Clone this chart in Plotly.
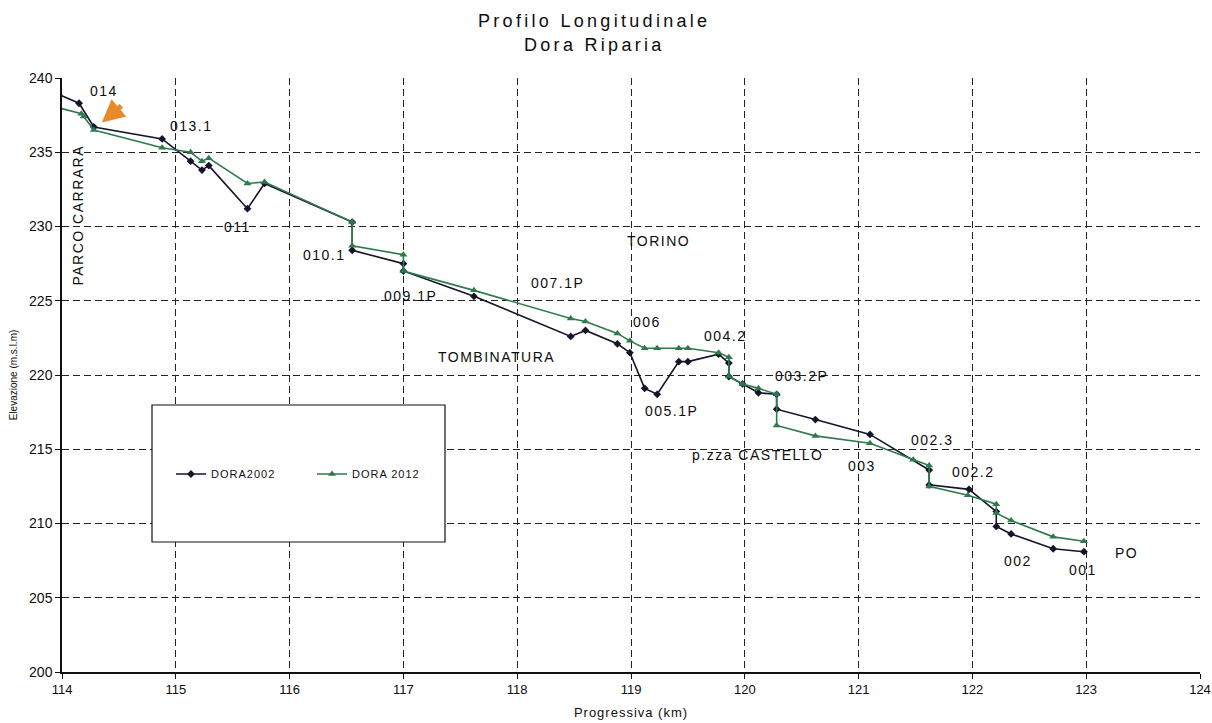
import plotly.graph_objects as go

# Longitudinal bed profile of the Dora Riparia through Torino
km_2002 = [113.97, 114.15, 114.28, 114.88, 115.13, 115.23, 115.29, 115.63, 115.78, 116.55,
           116.55, 117.00, 117.00, 117.62, 118.47, 118.60, 118.88, 118.99, 119.12, 119.23,
           119.42, 119.50, 119.77, 119.86, 119.86, 119.98, 120.12, 120.28, 120.28, 120.62,
           121.10, 121.62, 121.62, 121.97, 122.21, 122.21, 122.34, 122.71, 122.98]
elev_2002 = [238.9, 238.3, 236.7, 235.9, 234.4, 233.8, 234.1, 231.2, 232.9, 230.3,
             228.4, 227.5, 227.0, 225.3, 222.6, 223.0, 222.1, 221.5, 219.1, 218.7,
             220.9, 220.9, 221.4, 220.8, 219.9, 219.4, 218.8, 218.7, 217.7, 217.0,
             216.0, 213.6, 212.6, 212.3, 210.8, 209.8, 209.3, 208.3, 208.1]

km_2012 = [113.97, 114.17, 114.19, 114.28, 114.88, 115.13, 115.23, 115.29, 115.63, 115.78,
           116.55, 116.55, 117.00, 117.00, 117.62, 118.47, 118.60, 118.88, 118.99, 119.12,
           119.23, 119.42, 119.50, 119.77, 119.86, 119.86, 119.98, 120.12, 120.28, 120.28,
           120.62, 121.10, 121.48, 121.62, 121.62, 121.96, 122.21, 122.21, 122.34, 122.71,
           122.98]
elev_2012 = [238.0, 237.6, 237.4, 236.5, 235.3, 235.0, 234.4, 234.6, 232.9, 233.0,
             230.3, 228.7, 228.1, 227.0, 225.7, 223.8, 223.6, 222.8, 222.3, 221.8,
             221.8, 221.8, 221.8, 221.5, 221.2, 219.9, 219.4, 219.1, 218.7, 216.6,
             215.9, 215.4, 214.3, 213.9, 212.5, 211.9, 211.3, 210.7, 210.2, 209.1,
             208.8]

# Section and place names written on the profile
label_text = ["014", "013.1", "011", "010.1", "009.1P", "TORINO", "007.1P", "006",
              "TOMBINATURA", "004.2", "003.2P", "005.1P", "p.zza CASTELLO", "002.3",
              "003", "002.2", "002", "001", "PO"]
label_km = [114.37, 115.14, 115.54, 116.31, 117.06, 119.24, 118.35, 119.14,
            117.82, 119.83, 120.50, 119.36, 120.12, 121.65,
            121.03, 122.01, 122.40, 122.97, 123.35]
label_elev = [239.1, 236.8, 230.0, 228.1, 225.3, 229.0, 226.2, 223.6,
              221.2, 222.6, 219.9, 217.6, 214.6, 215.6,
              213.9, 213.5, 207.5, 206.9, 208.0]

FONT = "Liberation Sans, Arial, sans-serif"
TEXT = "#0d0d0d"
BLACK_LINE = "#14142a"
GREEN_LINE = "#2f7a4c"


def spaced(text, px):
    return f'<span style="letter-spacing:{px}px">{text}</span>'


fig = go.Figure()
fig.add_trace(go.Scatter(
    x=km_2002, y=elev_2002, mode="lines+markers", name=spaced("DORA2002", 1),
    line=dict(color=BLACK_LINE, width=1.6),
    marker=dict(symbol="diamond", size=6, color=BLACK_LINE),
))
fig.add_trace(go.Scatter(
    x=km_2012, y=elev_2012, mode="lines+markers", name=spaced("DORA 2012", 1),
    line=dict(color=GREEN_LINE, width=1.6),
    marker=dict(symbol="triangle-up", size=7, color=GREEN_LINE),
))

for t, xk, ye in zip(label_text, label_km, label_elev):
    fig.add_annotation(
        x=xk, y=ye, xref="x", yref="y", text=spaced(t, 1.5), showarrow=False,
        xanchor="center", yanchor="middle",
        font=dict(family=FONT, size=14, color=TEXT),
    )

fig.add_annotation(
    x=114.14, y=230.8, xref="x", yref="y", text=spaced("PARCO CARRARA", 1.5),
    showarrow=False, textangle=-90, xanchor="center", yanchor="middle",
    font=dict(family=FONT, size=14, color=TEXT),
)

# Orange pointer next to section 014
fig.add_annotation(
    x=114.35, y=237.0, xref="x", yref="y", text="", showarrow=True,
    ax=21, ay=-18, arrowhead=2, arrowsize=0.9, arrowwidth=5, arrowcolor="#e8892a",
    standoff=0,
)

# Two-line chart title
title_x = (594 - 62) / 1138
fig.add_annotation(
    x=title_x, y=1 + (78 - 21) / 594, xref="paper", yref="paper",
    text=spaced("Profilo Longitudinale", 3.3), showarrow=False,
    xanchor="center", yanchor="middle",
    font=dict(family=FONT, size=18, color=TEXT),
)
fig.add_annotation(
    x=title_x, y=1 + (78 - 45) / 594, xref="paper", yref="paper",
    text=spaced("Dora Riparia", 3.3), showarrow=False,
    xanchor="center", yanchor="middle",
    font=dict(family=FONT, size=18, color=TEXT),
)

# Legend frame
fig.add_shape(
    type="rect", xref="paper", yref="paper",
    x0=(152 - 62) / 1138, x1=(445 - 62) / 1138,
    y0=(672 - 542) / 594, y1=(672 - 405) / 594,
    line=dict(color="#111", width=1.2), fillcolor="white", layer="above",
)

grid_common = dict(
    showgrid=True, gridcolor="#222", gridwidth=1, griddash="7px,4px",
    showline=True, linecolor="#111", linewidth=1.5,
    ticks="outside", ticklen=5, tickcolor="#111", tickwidth=1,
    zeroline=False,
)

fig.update_xaxes(
    range=[114, 124], dtick=1, tick0=114,
    tickfont=dict(family=FONT, size=13, color=TEXT),
    title=dict(text=spaced("Progressiva (km)", 1), font=dict(family=FONT, size=13, color=TEXT),
               standoff=12),
    **grid_common,
)
fig.update_yaxes(
    range=[200, 240], dtick=5, tick0=200,
    tickfont=dict(family=FONT, size=14, color=TEXT),
    title=dict(text="Elevazione (m.s.l.m)", font=dict(family=FONT, size=10, color=TEXT),
               standoff=10),
    **grid_common,
)

fig.update_layout(
    width=1212, height=723,
    margin=dict(l=62, r=12, t=78, b=51, autoexpand=False),
    paper_bgcolor="white", plot_bgcolor="white",
    showlegend=True,
    legend=dict(
        orientation="h", x=(312 - 62) / 1138, y=(672 - 474) / 594,
        xanchor="center", yanchor="middle",
        bgcolor="rgba(0,0,0,0)", borderwidth=0,
        font=dict(family=FONT, size=11, color="#111"),
        entrywidth=96, entrywidthmode="pixels",
    ),
)

fig.write_html("out.html")
